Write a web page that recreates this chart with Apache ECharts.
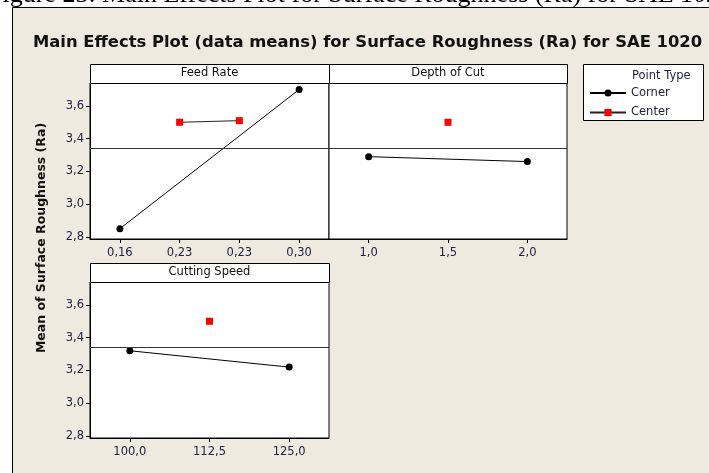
<!DOCTYPE html>
<html>
<head>
<meta charset="utf-8">
<script src="https://cdn.jsdelivr.net/npm/echarts@6/dist/echarts.min.js"></script>
<style>
  html, body { margin: 0; padding: 0; background: #fff; }
  #chart { width: 709px; height: 473px; }
</style>
</head>
<body>
<div id="chart"></div>
<script>
// factor levels (axis labels as printed, decimal comma)
const feedLevels = ['0,16', '0,23', '0,23', '0,30'];
const depthLevels = ['1,0', '1,5', '2,0'];
const speedLevels = ['100,0', '112,5', '125,0'];

// means
const feedCorner = [2.85, null, null, 3.70];
const feedCenter = [null, 3.50, 3.51, null];
const depthCorner = [3.29, null, 3.26];
const depthCenter = [null, 3.50, null];
const speedCorner = [3.32, null, 3.22];
const speedCenter = [null, 3.50, null];

const grandMean = 3.336;
const yTicks = [2.8, 3.0, 3.2, 3.4, 3.6];

const panelTitles = ['Feed Rate', 'Depth of Cut', 'Cutting Speed'];

const FONT = 'DejaVu Sans';
const LABEL = '#222244';

const chart = echarts.init(document.getElementById('chart'));

const grids = [
  { left: 90, top: 83, width: 239, height: 156 },
  { left: 329, top: 83, width: 238, height: 156 },
  { left: 90, top: 282, width: 239, height: 156 }
];

function xAxis(i, levels) {
  return {
    type: 'category', gridIndex: i, data: levels, boundaryGap: true,
    axisLine: { show: true, lineStyle: { color: '#000', width: 1 } },
    axisTick: { show: true, alignWithLabel: true, length: 4, lineStyle: { color: '#000' } },
    axisLabel: { color: LABEL, fontFamily: FONT, fontSize: 11.5, margin: 8 },
    splitLine: { show: false }
  };
}

function yAxis(i, showLabels) {
  return {
    type: 'value', gridIndex: i, min: 2.787, max: 3.74,
    axisLine: { show: showLabels, lineStyle: { color: '#000', width: 1 } },
    axisTick: { show: showLabels, length: 4, customValues: yTicks, lineStyle: { color: '#000' } },
    axisLabel: {
      show: showLabels, customValues: yTicks, color: LABEL, fontFamily: FONT, fontSize: 11.5, margin: 6,
      formatter: v => v.toFixed(1).replace('.', ',')
    },
    splitLine: { show: false }
  };
}

function cornerSeries(i, data) {
  return {
    name: 'Corner', type: 'line', xAxisIndex: i, yAxisIndex: i, data: data,
    connectNulls: true, symbol: 'circle', symbolSize: 7, showAllSymbol: true,
    itemStyle: { color: '#000' }, lineStyle: { color: '#000', width: 1 },
    emphasis: { disabled: true }, animation: false,
    markLine: {
      silent: true, symbol: 'none', label: { show: false },
      lineStyle: { color: '#333', width: 1, type: 'solid' },
      data: [{ yAxis: grandMean }]
    }
  };
}

function centerSeries(i, data) {
  return {
    name: 'Center', type: 'line', xAxisIndex: i, yAxisIndex: i, data: data,
    connectNulls: true, symbol: 'rect', symbolSize: 7, showAllSymbol: true,
    itemStyle: { color: '#ff0000' }, lineStyle: { color: '#222', width: 1 },
    emphasis: { disabled: true }, animation: false
  };
}

const headerRects = [];
grids.forEach((g, i) => {
  headerRects.push({
    type: 'rect', z: 10,
    shape: { x: g.left + 0.5, y: g.top - 19 + 0.5, width: g.width, height: 19 },
    style: { fill: '#fff', stroke: '#000', lineWidth: 1 }
  });
  headerRects.push({
    type: 'text', z: 11, x: g.left + g.width / 2, y: g.top - 9.5,
    style: { text: panelTitles[i], fill: '#111', font: '11.5px "' + FONT + '"', align: 'center', verticalAlign: 'middle' }
  });
});

const option = {
  backgroundColor: '#fff',
  animation: false,
  grid: grids.map(g => Object.assign({
    show: true, backgroundColor: '#fff', borderColor: '#000', borderWidth: 1, containLabel: false
  }, g)),
  xAxis: [xAxis(0, feedLevels), xAxis(1, depthLevels), xAxis(2, speedLevels)],
  yAxis: [yAxis(0, true), yAxis(1, false), yAxis(2, true)],
  legend: {
    data: ['Corner', 'Center'], orient: 'vertical', left: 589, top: 87, padding: 0,
    itemWidth: 36, itemHeight: 9, itemGap: 7.5,
    textStyle: { color: LABEL, fontFamily: FONT, fontSize: 11.5 },
    selectedMode: false
  },
  graphic: [
    // frame
    {
      type: 'rect', z: -10,
      shape: { x: 12.5, y: 7.5, width: 720, height: 500 },
      style: { fill: '#eeeae0', stroke: '#000', lineWidth: 1 }
    },
    // cropped caption above the frame
    {
      type: 'text', z: -11, x: -12, y: 8.5,
      style: {
        text: 'Figure 23: Main Effects Plot for Surface Roughness (Ra) for SAE 1020',
        fill: '#000', font: '26px "Liberation Serif"', verticalAlign: 'bottom'
      }
    },
    {
      type: 'text', z: 10, x: 33, y: 43,
      style: {
        text: 'Main Effects Plot (data means) for Surface Roughness (Ra) for SAE 1020',
        fill: '#111', font: 'bold 16.4px "' + FONT + '"', verticalAlign: 'middle'
      }
    },
    {
      type: 'text', z: 10, x: 42, y: 238, rotation: Math.PI / 2,
      style: {
        text: 'Mean of Surface Roughness (Ra)',
        fill: '#111', font: 'bold 12.5px "' + FONT + '"', align: 'center', verticalAlign: 'middle'
      }
    },
    // legend box
    {
      type: 'rect', z: -5,
      shape: { x: 583.5, y: 64.5, width: 120, height: 56 },
      style: { fill: '#fff', stroke: '#000', lineWidth: 1 }
    },
    {
      type: 'text', z: 10, x: 632, y: 76,
      style: { text: 'Point Type', fill: LABEL, font: '11.5px "' + FONT + '"', verticalAlign: 'middle' }
    }
  ].concat(headerRects),
  series: [
    cornerSeries(0, feedCorner), centerSeries(0, feedCenter),
    cornerSeries(1, depthCorner), centerSeries(1, depthCenter),
    cornerSeries(2, speedCorner), centerSeries(2, speedCenter)
  ]
};

chart.setOption(option);
</script>
</body>
</html>
